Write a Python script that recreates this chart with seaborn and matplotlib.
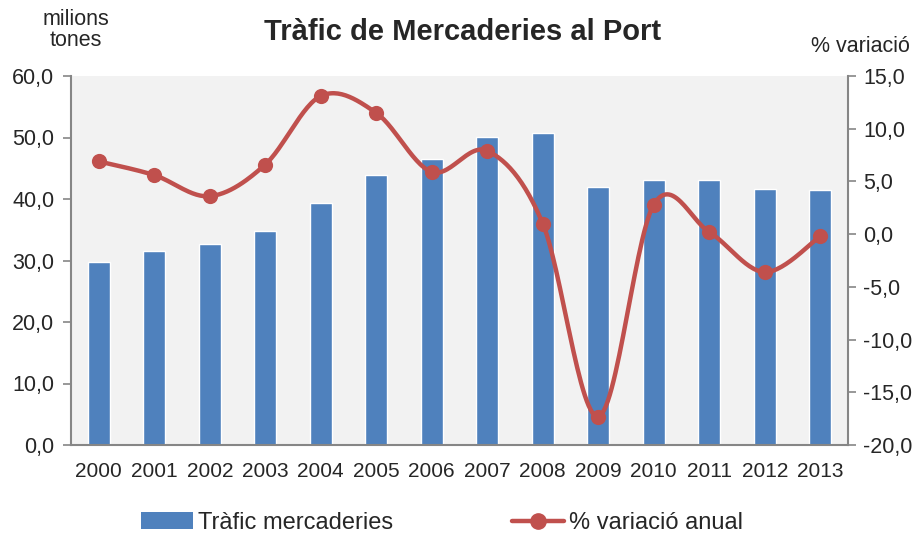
import numpy as np
import pandas as pd
import matplotlib
matplotlib.use("Agg")
import matplotlib.pyplot as plt
from matplotlib.patches import Patch
from matplotlib.lines import Line2D
import seaborn as sns

# Dades
anys = ["2000", "2001", "2002", "2003", "2004", "2005", "2006",
        "2007", "2008", "2009", "2010", "2011", "2012", "2013"]
trafic = [29.8, 31.5, 32.7, 34.8, 39.3, 43.9, 46.5,
          50.1, 50.7, 42.0, 43.1, 43.1, 41.6, 41.5]
variacio = [6.9, 5.6, 3.6, 6.6, 13.1, 11.5, 5.9,
            7.9, 1.0, -17.3, 2.8, 0.2, -3.6, -0.2]

sns.set_style("white")
plt.rcParams["font.family"] = ["Liberation Sans", "DejaVu Sans"]

blau = "#4F81BD"
vermell = "#C0504D"
gris = "#868686"

df = pd.DataFrame({"any": anys, "trafic": trafic, "variacio": variacio})

fig = plt.figure(figsize=(9.19, 5.4), dpi=100)
ax = fig.add_axes([71 / 919, 95 / 540, 777 / 919, 369 / 540])
ax.set_facecolor("#F2F2F2")

sns.barplot(data=df, x="any", y="trafic", color=blau, width=0.4,
            saturation=1, ax=ax)
ax.set_xlim(-0.5, len(anys) - 0.5)
ax.set_ylim(0, 60)
ax.set_yticks(np.arange(0, 61, 10))
ax.set_yticklabels([f"{v:.1f}".replace(".", ",") for v in np.arange(0, 61, 10)])
ax.set_xlabel("")
ax.set_ylabel("")

# ticks entre categories
ax.set_xticks(np.arange(len(anys)))
ax.set_xticklabels(anys)
ax.set_xticks(np.arange(-0.5, len(anys)), minor=True)
ax.tick_params(axis="x", which="major", length=0, labelsize=15, pad=12)
ax.tick_params(axis="x", which="minor", length=6, color=gris, width=1.2)
ax.tick_params(axis="y", length=6, color=gris, width=1.2, labelsize=15.5, pad=6,
               direction="out", left=True)

# corba suavitzada per la variació anual
ax2 = ax.twinx()
x = np.arange(len(variacio), dtype=float)
y = np.array(variacio)
xs, ys = [], []
for i in range(len(x) - 1):
    p0 = np.array([x[max(i - 1, 0)], y[max(i - 1, 0)]])
    p1 = np.array([x[i], y[i]])
    p2 = np.array([x[i + 1], y[i + 1]])
    p3 = np.array([x[min(i + 2, len(x) - 1)], y[min(i + 2, len(x) - 1)]])
    c1 = p1 + (p2 - p0) / 6
    c2 = p2 - (p3 - p1) / 6
    t = np.linspace(0, 1, 30)[:, None]
    seg = (1 - t) ** 3 * p1 + 3 * (1 - t) ** 2 * t * c1 + 3 * (1 - t) * t ** 2 * c2 + t ** 3 * p2
    xs.extend(seg[:, 0])
    ys.extend(seg[:, 1])
ax2.plot(xs, ys, color=vermell, lw=3.2, solid_capstyle="round", zorder=3)
sns.scatterplot(x=x, y=y, ax=ax2, color=vermell, s=120, edgecolor=vermell,
                linewidth=0, zorder=4, legend=False)
ax2.set_ylim(-20, 15)
ax2.set_yticks(np.arange(-20, 16, 5))
ax2.set_yticklabels([f"{v:.1f}".replace(".", ",") for v in np.arange(-20, 16, 5)])
ax2.tick_params(axis="y", length=6, color=gris, width=1.2, labelsize=15.5, pad=5,
                direction="out", right=True)
ax2.set_xlim(-0.5, len(anys) - 0.5)

for a in (ax, ax2):
    for s in a.spines.values():
        s.set_visible(False)
    a.spines["left"].set_visible(a is ax)
    a.spines["right"].set_visible(a is ax2)
    a.spines["bottom"].set_visible(a is ax)
    for s in ("left", "right", "bottom"):
        a.spines[s].set_color(gris)
        a.spines[s].set_linewidth(1.5)

fig.text(463 / 919, 1 - 32 / 540, "Tràfic de Mercaderies al Port",
         ha="center", va="center", fontsize=21, fontweight="bold")
fig.text(76 / 919, 1 - 30 / 540, "milions\ntones", ha="center", va="center",
         fontsize=15.5, linespacing=1.05)
fig.text(860 / 919, 1 - 47 / 540, "% variació", ha="center", va="center",
         fontsize=15.5)

handles = [Patch(facecolor=blau, edgecolor="none"),
           Line2D([0], [0], color=vermell, lw=3.2, marker="o", markersize=11)]
fig.legend(handles, ["Tràfic mercaderies", "% variació anual"],
           loc="center", bbox_to_anchor=(442 / 919, 1 - 523 / 540), ncol=2,
           frameon=False, fontsize=17, handlelength=2.2, handletextpad=0.25,
           columnspacing=5.0)

fig.savefig("out.png", dpi=100)
